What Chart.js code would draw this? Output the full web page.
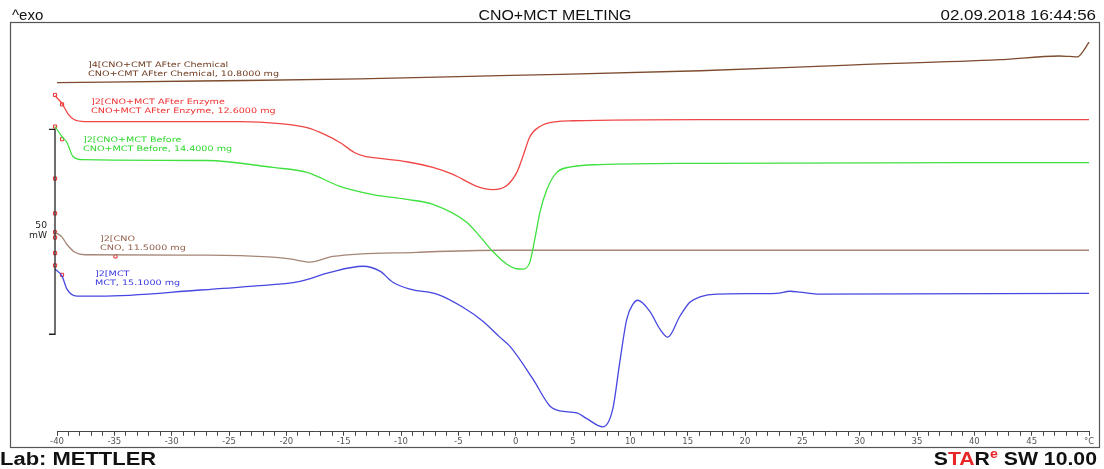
<!DOCTYPE html>
<html><head><meta charset="utf-8">
<script src="https://cdn.jsdelivr.net/npm/chart.js@4.4.0/dist/chart.umd.min.js"></script>
<style>html,body{margin:0;padding:0;background:#fff;}</style>
</head><body>
<canvas id="c" width="1104" height="469"></canvas>
<script>
// ---- DATA (temperature in °C, heat flow in chart units, exo up) ----
const chemT = [-40, -27.5, -13.6, -1.4, 16.1, 29.1, 42.2, 47.4, 48.3, 49.0, 49.5, 50];
const chemV = [85.2, 85.6, 86.1, 86.9, 88.1, 89.5, 90.8, 91.7, 91.6, 91.5, 92.9, 95.1];

const enzT = [-40.17, -39.56, -39.04, -38.52, -37.56, -24.05, -20.56, -18.2, -16.63, -15.33, -14.02, -13.15, -11.84, -9.49, -7.22, -5.47, -3.38, -1.99, -0.77, 0.10, 0.63, 1.24, 2.11, 3.59, 4.99, 16.06, 50];
const enzV = [82.0, 80.1, 77.6, 76.2, 75.7, 75.7, 75.2, 74.2, 72.5, 70.6, 68.1, 67.2, 66.7, 65.9, 64.5, 62.8, 59.9, 59.1, 60.1, 63.3, 67.2, 72.0, 74.5, 75.7, 75.9, 76.2, 76.2];

const befT = [-40.17, -39.56, -39.13, -38.61, -37.73, -26.92, -21.17, -18.2, -15.33, -12.45, -9.49, -7.22, -4.25, -3.12, -1.99, -0.77, -0.07, 0.63, 1.24, 1.67, 2.11, 2.72, 3.59, 4.99, 7.34, 16.06, 50];
const befV = [74.5, 72.0, 70.6, 67.2, 66.4, 66.2, 64.5, 63.3, 59.9, 57.9, 56.7, 55.5, 51.1, 47.7, 44.0, 40.9, 39.9, 39.7, 41.4, 47.0, 53.5, 59.1, 63.3, 64.7, 65.2, 65.5, 65.7];

const cnoT = [-40.17, -39.56, -39.13, -38.43, -37.56, -26.92, -21.17, -19.69, -17.94, -15.94, -8.61, -1.38, 50];
const cnoV = [48.7, 47.5, 45.7, 43.8, 43.2, 43.1, 42.6, 42.2, 41.4, 42.8, 43.8, 44.3, 44.3];

const mctT = [-40.17, -39.56, -39.13, -38.26, -36.25, -27.53, -23.17, -18.81, -16.2, -13.32, -11.84, -10.71, -9.22, -6.87, -4.6, -2.86, -1.38, -0.51, 1.5, 2.98, 3.85, 5.34, 6.21, 7.6, 8.47, 9.08, 9.69, 10.22, 10.65, 11.7, 12.57, 13.27, 14.32, 15.19, 16.06, 17.54, 22.77, 23.91, 24.78, 26.26, 50];
const mctV = [39.7, 38.0, 34.8, 33.1, 33.1, 34.6, 35.5, 36.7, 38.9, 40.4, 39.2, 36.5, 34.8, 33.6, 30.4, 27.0, 23.1, 20.9, 12.9, 6.3, 5.1, 4.6, 3.2, 1.2, 5.6, 17.0, 27.5, 31.1, 32.1, 29.4, 25.1, 23.1, 28.2, 31.6, 32.9, 33.6, 33.8, 34.3, 34.1, 33.6, 33.8];

// evaluation markers
const markT = [-40.17, -40.17, -40.17, -40.17, -40.17, -40.17, -40.17, -40.17, -39.56, -39.56, -34.9, -39.56];
const markV = [82.2, 74.5, 61.8, 53.3, 48.7, 47.4, 43.6, 40.6, 79.9, 71.4, 42.8, 38.3];

const xTicksMajor = [-40, -35, -30, -25, -20, -15, -10, -5, 0, 5, 10, 15, 20, 25, 30, 35, 40, 45];
const unitLabel = '°C';
const scaleBar = {from: 23.8, to: 73.8, label1: '50', label2: 'mW'};

const series = [
  {name: 'CNO+CMT AFter Chemical', T: chemT, V: chemV, color: '#7d4b2e'},
  {name: 'CNO+MCT AFter Enzyme', T: enzT, V: enzV, color: '#f04646'},
  {name: 'CNO+MCT Before', T: befT, V: befV, color: '#3fe03f'},
  {name: 'CNO', T: cnoT, V: cnoV, color: '#a58676'},
  {name: 'MCT', T: mctT, V: mctV, color: '#4646e0'}
];

const curveLabels = [
  {l1: ']4[CNO+CMT AFter Chemical', l2: 'CNO+CMT AFter Chemical, 10.8000 mg', x: 88, y: 67, color: '#6e3c20'},
  {l1: ']2[CNO+MCT AFter Enzyme', l2: 'CNO+MCT AFter Enzyme, 12.6000 mg', x: 91, y: 104, color: '#f03030'},
  {l1: ']2[CNO+MCT Before', l2: 'CNO+MCT Before, 14.4000 mg', x: 83, y: 142, color: '#2ed82e'},
  {l1: ']2[CNO', l2: 'CNO, 11.5000 mg', x: 100, y: 241, color: '#93604c'},
  {l1: ']2[MCT', l2: 'MCT, 15.1000 mg', x: 95, y: 276, color: '#3a3ae0'}
];

function txt(ctx, s, x, y, font, color, align, sx) {
  ctx.save();
  ctx.font = font; ctx.fillStyle = color; ctx.textBaseline = 'alphabetic'; ctx.textAlign = 'left';
  const w = ctx.measureText(s).width * sx;
  const x0 = align === 'left' ? x : (align === 'right' ? x - w : x - w / 2);
  ctx.translate(x0, y); ctx.scale(sx, 1); ctx.fillText(s, 0, 0);
  ctx.restore();
  return w;
}

const decor = {
  id: 'decor',
  afterDraw(chart) {
    const ctx = chart.ctx;
    const xs = chart.scales.x, ys = chart.scales.y;
    // frame
    ctx.save();
    ctx.strokeStyle = '#555'; ctx.lineWidth = 1.2;
    ctx.strokeRect(10.5, 22.5, 1089, 425);
    ctx.restore();
    // header
    const hf = '15px "Liberation Sans", Arial, sans-serif';
    txt(ctx, '^exo', 12, 20, hf, '#111', 'left', 1.0);
    txt(ctx, 'CNO+MCT MELTING', 555, 20, hf, '#111', 'center', 1.06);
    txt(ctx, '02.09.2018 16:44:56', 1096, 20, hf, '#111', 'right', 1.13);
    // footer
    const ff = 'bold 18px "Liberation Sans", Arial, sans-serif';
    txt(ctx, 'Lab: METTLER', 0, 465, ff, '#111', 'left', 1.22);
    // STARe SW 10.00 (right aligned)
    ctx.save();
    const sx = 1.18;
    const parts = [['S', '#111', ff, 0], ['TA', '#e8262a', ff, 0], ['R', '#111', ff, 0], ['e', '#e8262a', 'bold 12px "Liberation Sans", Arial, sans-serif', -7], [' SW 10.00', '#111', ff, 0]];
    let tot = 0;
    parts.forEach(p => { ctx.font = p[2]; tot += ctx.measureText(p[0]).width * sx; });
    ctx.restore();
    let cx = 1097 - tot;
    parts.forEach(p => { cx += txt(ctx, p[0], cx, 465 + p[3], p[2], p[1], 'left', sx); });
    // scale bar
    const bx = xs.left - 2;
    const yTop = ys.getPixelForValue(scaleBar.to), yBot = ys.getPixelForValue(scaleBar.from);
    ctx.save();
    ctx.strokeStyle = '#222'; ctx.lineWidth = 1.3;
    ctx.beginPath();
    ctx.moveTo(bx - 6, yTop); ctx.lineTo(bx, yTop); ctx.lineTo(bx, yBot); ctx.lineTo(bx - 6, yBot);
    ctx.stroke();
    ctx.restore();
    const sf = '8px "DejaVu Sans", sans-serif';
    txt(ctx, scaleBar.label1, bx - 8, (yTop + yBot) / 2 - 4, sf, '#222', 'right', 1.15);
    txt(ctx, scaleBar.label2, bx - 8, (yTop + yBot) / 2 + 6, sf, '#222', 'right', 1.15);
    // curve labels
    const lf = '7.5px "DejaVu Sans", sans-serif';
    curveLabels.forEach(c => {
      txt(ctx, c.l1, c.x, c.y, lf, c.color, 'left', 1.28);
      txt(ctx, c.l2, c.x, c.y + 9, lf, c.color, 'left', 1.28);
    });
  }
};

const datasets = series.map(s => ({
  label: s.name,
  data: s.T.map((t, i) => ({x: t, y: s.V[i]})),
  borderColor: s.color,
  borderWidth: 1.3,
  pointRadius: 0,
  fill: false,
  clip: false,
  cubicInterpolationMode: 'monotone'
}));
datasets.push({
  label: 'markers',
  data: markT.map((t, i) => ({x: t, y: markV[i]})),
  showLine: false,
  clip: false,
  pointStyle: 'rect',
  pointRadius: 2.2,
  pointBorderWidth: 1,
  pointBorderColor: '#e83030',
  pointBackgroundColor: 'rgba(255,255,255,0)'
});

new Chart(document.getElementById('c'), {
  type: 'line',
  data: {datasets},
  options: {
    responsive: false,
    animation: false,
    devicePixelRatio: 1,
    layout: {padding: {left: 57, right: 15, top: 22, bottom: 21}},
    plugins: {legend: {display: false}, tooltip: {enabled: false}},
    scales: {
      x: {
        type: 'linear', min: -40, max: 50,
        border: {display: true, color: '#444', width: 1},
        grid: {drawOnChartArea: false, drawTicks: true, tickLength: 4, color: '#444'},
        ticks: {
          stepSize: 1, autoSkip: false, maxRotation: 0, padding: 1,
          color: '#555', font: {family: '"DejaVu Sans", sans-serif', size: 8.5},
          callback: v => v === 50 ? unitLabel : (xTicksMajor.includes(v) ? String(v) : '')
        }
      },
      y: {type: 'linear', min: 0, max: 100, display: false}
    }
  },
  plugins: [decor]
});
</script>
</body></html>
